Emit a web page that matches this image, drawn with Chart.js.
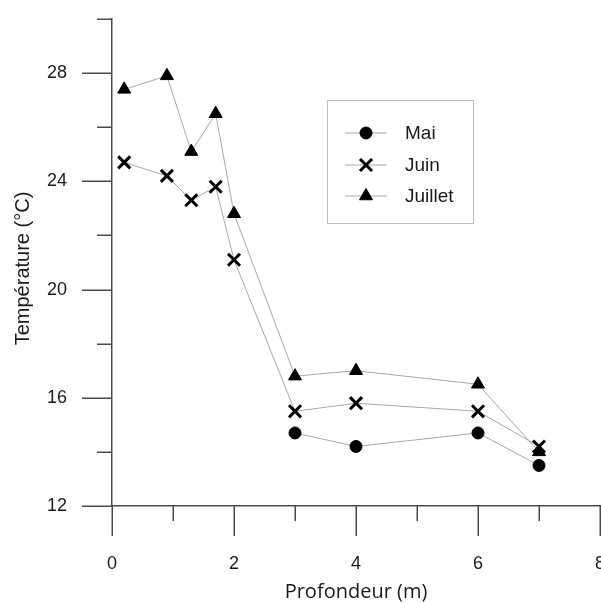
<!DOCTYPE html>
<html>
<head>
<meta charset="utf-8">
<script src="https://cdn.jsdelivr.net/npm/chart.js@4/dist/chart.umd.min.js"></script>
<style>
  html, body { margin: 0; padding: 0; background: #fff; }
  #wrap { width: 601px; height: 603px; }
</style>
</head>
<body>
<div id="wrap"><canvas id="chart"></canvas></div>
<script>
// profondeurs (m)
const depthMai = [3, 4, 6, 7];
const depth = [0.2, 0.9, 1.3, 1.7, 2, 3, 4, 6, 7];

// températures (°C)
const mai = [14.7, 14.2, 14.7, 13.5];
const juin = [24.7, 24.2, 23.3, 23.8, 21.1, 15.5, 15.8, 15.5, 14.2];
const juillet = [27.4, 27.9, 25.1, 26.5, 22.8, 16.8, 17.0, 16.5, 14.0];

// ticks
const xMajor = [0, 2, 4, 6, 8];
const xMinor = [1, 3, 5, 7];
const yMajor = [12, 16, 20, 24, 28];
const yMinor = [14, 18, 22, 26, 30];

const yTitle = 'Température (°C)';

const axisColor = '#4a4a4a';
const lineColor = '#a8a8a8';
const textColor = '#1a1a1a';

const toPoints = (xs, ys) => xs.map((x, i) => ({x: x, y: ys[i]}));

const mkSet = (label, xs, ys, style, radius, bw) => ({
    label: label,
    data: toPoints(xs, ys),
    showLine: true,
    borderColor: lineColor,
    borderWidth: 1,
    pointStyle: style,
    pointRadius: radius,
    pointHoverRadius: radius,
    pointBackgroundColor: '#000',
    pointBorderColor: '#000',
    pointBorderWidth: bw
});

// petits traits des axes (majeurs et mineurs) + titre vertical
const tickMarks = {
    id: 'tickMarks',
    afterDraw(chart) {
        const {ctx, scales: {x, y}} = chart;
        const area = chart.chartArea;
        ctx.save();
        ctx.strokeStyle = axisColor;
        ctx.lineWidth = 1.5;
        const vTick = (v, len) => {
            const px = Math.round(x.getPixelForValue(v)) + 0.25;
            ctx.beginPath();
            ctx.moveTo(px, area.bottom);
            ctx.lineTo(px, area.bottom + len);
            ctx.stroke();
        };
        const hTick = (v, len) => {
            const py = Math.round(y.getPixelForValue(v)) + 0.25;
            ctx.beginPath();
            ctx.moveTo(area.left, py);
            ctx.lineTo(area.left - len, py);
            ctx.stroke();
        };
        xMajor.forEach(v => vTick(v, 30));
        xMinor.forEach(v => vTick(v, 15));
        yMajor.forEach(v => hTick(v, 30));
        yMinor.forEach(v => hTick(v, 15));

        // titre de l'axe y, un peu sous le milieu comme dans l'original
        ctx.translate(23, (area.top + area.bottom) / 2 + 6);
        ctx.rotate(-Math.PI / 2);
        ctx.font = '20px "Liberation Sans", Arial, sans-serif';
        ctx.fillStyle = textColor;
        ctx.textAlign = 'center';
        ctx.textBaseline = 'middle';
        ctx.fillText(yTitle, 0, 0);
        ctx.restore();
    }
};

// légende encadrée avec trait + symbole
const boxLegend = {
    id: 'boxLegend',
    afterDraw(chart) {
        const ctx = chart.ctx;
        const bx = 327, by = 100, bw = 146, bh = 123;
        ctx.save();
        ctx.strokeStyle = '#bdbdbd';
        ctx.lineWidth = 1;
        ctx.strokeRect(bx + 0.5, by + 0.5, bw, bh);
        const rows = [133, 165, 196];
        chart.data.datasets.forEach((ds, i) => {
            const yy = rows[i];
            ctx.strokeStyle = lineColor;
            ctx.lineWidth = 1;
            ctx.beginPath();
            ctx.moveTo(345, yy);
            ctx.lineTo(387, yy);
            ctx.stroke();
            ctx.fillStyle = '#000';
            ctx.strokeStyle = '#000';
            ctx.lineWidth = ds.pointBorderWidth;
            Chart.helpers.drawPoint(ctx, {
                pointStyle: ds.pointStyle,
                radius: ds.pointRadius,
                borderWidth: ds.pointBorderWidth,
                rotation: 0
            }, 366, yy);
            ctx.font = '19px "Liberation Sans", Arial, sans-serif';
            ctx.fillStyle = textColor;
            ctx.textBaseline = 'middle';
            ctx.fillText(ds.label, 405, yy + 1);
        });
        ctx.restore();
    }
};

const fixScale = (w, h) => scale => {
    if (w) scale.width = w;
    if (h) scale.height = h;
    scale.paddingLeft = 0;
    scale.paddingRight = 0;
    scale.paddingTop = 0;
    scale.paddingBottom = 0;
};

new Chart(document.getElementById('chart'), {
    type: 'scatter',
    data: {
        datasets: [
            mkSet('Mai', depthMai, mai, 'circle', 6, 1),
            mkSet('Juin', depth, juin, 'crossRot', 8.5, 3),
            mkSet('Juillet', depth, juillet, 'triangle', 7.5, 1)
        ]
    },
    options: {
        responsive: true,
        maintainAspectRatio: false,
        animation: false,
        layout: {autoPadding: false, padding: {left: 0, right: 1, top: 19, bottom: 0}},
        plugins: {
            legend: {display: false},
            tooltip: {enabled: false}
        },
        scales: {
            x: {
                type: 'linear',
                min: 0,
                max: 8,
                afterBuildTicks: s => { s.ticks = xMajor.map(v => ({value: v})); },
                afterFit: fixScale(null, 97),
                grid: {display: false, drawTicks: false},
                border: {display: true, color: axisColor, width: 1.5},
                ticks: {
                    padding: 47,
                    color: textColor,
                    maxRotation: 0,
                    font: {family: '"Liberation Sans", Arial, sans-serif', size: 18}
                },
                title: {
                    display: true,
                    text: 'Profondeur (m)',
                    color: textColor,
                    padding: {top: 0, bottom: -1},
                    font: {family: '"Open Sans", sans-serif', size: 20}
                }
            },
            y: {
                type: 'linear',
                min: 12,
                max: 30,
                afterBuildTicks: s => { s.ticks = yMajor.map(v => ({value: v})); },
                afterFit: fixScale(112, null),
                grid: {display: false, drawTicks: false},
                border: {display: true, color: axisColor, width: 1.5},
                ticks: {
                    padding: 45,
                    color: textColor,
                    font: {family: '"Liberation Sans", Arial, sans-serif', size: 18}
                },
                title: {display: false}
            }
        }
    },
    plugins: [tickMarks, boxLegend]
});
</script>
</body>
</html>
